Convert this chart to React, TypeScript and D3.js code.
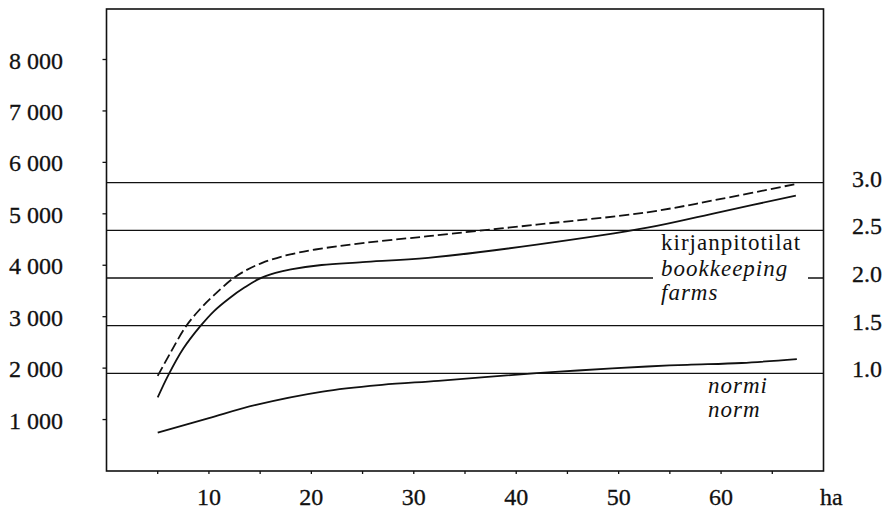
import React from "react";
import * as d3 from "d3";

// ---- data ----
const bookHa = [5.0, 6.0, 7.5, 9.2, 10.5, 12.0, 13.5, 14.9, 16.5, 18.0, 21.0, 25, 31.4, 42, 52.8, 60, 67.3];
const bookVal = [1430, 1850, 2380, 2825, 3110, 3360, 3570, 3735, 3850, 3920, 4005, 4060, 4145, 4400, 4730, 5040, 5355];

const dashHa = [5.0, 6.3, 7.8, 9.1, 10.4, 12.3, 13.7, 15.2, 17.5, 20.4, 25, 31.4, 42, 52.8, 60, 67.3];
const dashVal = [1850, 2320, 2825, 3140, 3400, 3735, 3910, 4046, 4190, 4306, 4430, 4565, 4790, 5030, 5290, 5580];

const normHa = [5.0, 10, 14.6, 21.1, 26.9, 32.4, 42, 46, 52.8, 56.7, 62, 67.4];
const normVal = [746, 1030, 1286, 1545, 1675, 1753, 1903, 1954, 2032, 2065, 2100, 2176];

const leftTicks = [1000, 2000, 3000, 4000, 5000, 6000, 7000, 8000];
const rightTicks = [1.0, 1.5, 2.0, 2.5, 3.0];
const xMinorTicks = [5, 10, 15, 20, 25, 30, 35, 40, 45, 50, 55, 60, 65];
const xLabelTicks = [10, 20, 30, 40, 50, 60];
const xUnit = "ha";
const labelBook = ["kirjanpitotilat", "bookkeeping", "farms"];
const labelNorm = ["normi", "norm"];

const W = 885;
const H = 509;
const FL = 106.5, FR = 823.5, FT = 9, FB = 471;

export default function App() {
  const x = d3.scaleLinear().domain([0, 70]).range([FL, FR]);
  const yL = d3.scaleLinear().domain([0, 8000]).range([FB, 59.5]);
  const yR = d3.scaleLinear().domain([0, 4.82]).range([468.6, 9.25]);
  const fmtL = d3.formatLocale({ thousands: " ", grouping: [3], decimal: ".", currency: ["", ""] }).format(",");
  const fmtR = d3.format(".1f");

  const line = d3
    .line<[number, number]>()
    .x((d) => x(d[0]))
    .y((d) => yL(d[1]))
    .curve(d3.curveCatmullRom.alpha(0.5));

  const book = line(bookHa.map((h, i) => [h, bookVal[i]]) as [number, number][]) || "";
  const dash = line(dashHa.map((h, i) => [h, dashVal[i]]) as [number, number][]) || "";
  const norm = line(normHa.map((h, i) => [h, normVal[i]]) as [number, number][]) || "";

  const tf: React.CSSProperties = { fontFamily: "Liberation Serif" };
  const ti: React.CSSProperties = { fontFamily: "Liberation Serif", fontStyle: "italic" };

  return (
    <svg width={W} height={H} style={{ position: "absolute", left: 0, top: 0, background: "#fff" }}>
      <rect x={0} y={0} width={W} height={H} fill="#fff" />
      {rightTicks.map((v) => (
        <line key={"g" + v} x1={FL} x2={FR} y1={yR(v)} y2={yR(v)} stroke="#111" strokeWidth={1.3} />
      ))}
      <rect x={653} y={270} width={155} height={14} fill="#fff" />
      <path d={dash} fill="none" stroke="#111" strokeWidth={1.8} strokeDasharray="10,4" />
      <path d={book} fill="none" stroke="#111" strokeWidth={1.8} />
      <path d={norm} fill="none" stroke="#111" strokeWidth={1.8} />
      <rect x={FL} y={FT} width={FR - FL} height={FB - FT} fill="none" stroke="#111" strokeWidth={1.6} />
      {leftTicks.map((v) => (
        <g key={"l" + v}>
          <line x1={FL - 4} x2={FL} y1={yL(v)} y2={yL(v)} stroke="#111" strokeWidth={1.3} />
          <text x={63} y={yL(v) + 9} textAnchor="end" fontSize={24} fill="#111" stroke="#111" strokeWidth={0.3} style={tf}>
            {fmtL(v)}
          </text>
        </g>
      ))}
      {rightTicks.map((v) => (
        <text key={"r" + v} x={852} y={yR(v) + 4} fontSize={24} fill="#111" stroke="#111" strokeWidth={0.3} style={tf}>
          {fmtR(v)}
        </text>
      ))}
      {xMinorTicks.map((v) => (
        <line key={"t" + v} x1={x(v)} x2={x(v)} y1={FB} y2={FB + 3} stroke="#111" strokeWidth={1.3} />
      ))}
      {xLabelTicks.map((v) => (
        <text key={"x" + v} x={x(v)} y={505} textAnchor="middle" fontSize={24} fill="#111" stroke="#111" strokeWidth={0.3} style={tf}>
          {v}
        </text>
      ))}
      <text x={820} y={505} fontSize={24} fill="#111" stroke="#111" strokeWidth={0.3} style={tf}>
        {xUnit}
      </text>
      <text x={661} y={250} fontSize={23} letterSpacing={1} fill="#111" style={tf}>
        {labelBook[0]}
      </text>
      <text x={661} y={276} fontSize={23} letterSpacing={1} fill="#111" style={ti}>
        {labelBook[1]}
      </text>
      <text x={661} y={300} fontSize={23} letterSpacing={1} fill="#111" style={ti}>
        {labelBook[2]}
      </text>
      <text x={708} y={393} fontSize={23} letterSpacing={1} fill="#111" style={ti}>
        {labelNorm[0]}
      </text>
      <text x={708} y={417} fontSize={23} letterSpacing={1} fill="#111" style={ti}>
        {labelNorm[1]}
      </text>
    </svg>
  );
}
